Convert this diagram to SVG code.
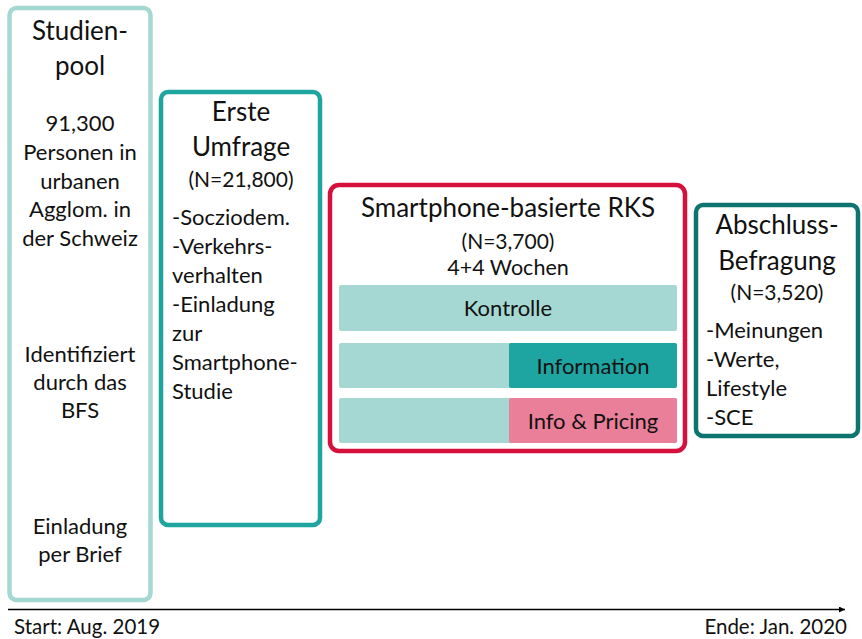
<svg xmlns="http://www.w3.org/2000/svg" width="862" height="639" viewBox="0 0 862 639">
<defs>
<style>
text{font-family:Lato,"Liberation Sans",sans-serif;fill:#111;}
.c{text-anchor:middle;}
.box{fill:#fff;stroke-width:4.5;}
.h{font-size:26px;}
.m{font-size:22px;}
.s{font-size:21px;}
.t{font-size:20.5px;}
</style>
<marker id="arr" viewBox="0 0 10 10" refX="10" refY="5" markerWidth="8" markerHeight="6" orient="auto" markerUnits="userSpaceOnUse"><path d="M0,0 L10,5 L0,10 z" fill="#000"/></marker>
</defs>
<rect width="862" height="639" fill="#fff"/>
<g id="studienpool">
<rect class="box" x="9.5" y="8" width="141" height="592" rx="7" stroke="#a5d8d3"/>
<text class="c h" x="80" y="40">Studien-</text>
<text class="c h" x="80" y="75">pool</text>
<text class="c m" x="80" y="131">91,300</text>
<text class="c m" x="80" y="160">Personen in</text>
<text class="c m" x="80" y="189">urbanen</text>
<text class="c m" x="80" y="217">Agglom. in</text>
<text class="c m" x="80" y="246">der Schweiz</text>
<text class="c m" x="80" y="362">Identifiziert</text>
<text class="c m" x="80" y="390">durch das</text>
<text class="c m" x="80" y="418">BFS</text>
<text class="c m" x="80" y="534">Einladung</text>
<text class="c m" x="80" y="562">per Brief</text>
</g>
<g id="erste-umfrage">
<rect class="box" x="161" y="92" width="159" height="433" rx="7" stroke="#1fa5a0"/>
<text class="c h" x="241" y="121">Erste</text>
<text class="c h" x="241" y="156">Umfrage</text>
<text class="c s" x="241" y="187">(N=21,800)</text>
<text class="m" x="172" y="225">-Socziodem.</text>
<text class="m" x="172" y="254">-Verkehrs-</text>
<text class="m" x="172" y="283">verhalten</text>
<text class="m" x="172" y="312">-Einladung</text>
<text class="m" x="172" y="341">zur</text>
<text class="m" x="172" y="370">Smartphone-</text>
<text class="m" x="172" y="399">Studie</text>
</g>
<g id="rks">
<rect class="box" x="330" y="185" width="355" height="266" rx="9" stroke="#d6103c"/>
<text class="c" x="508" y="217" font-size="26">Smartphone-basierte RKS</text>
<text class="c s" x="508" y="249">(N=3,700)</text>
<text class="c" x="508" y="275" font-size="21.5">4+4 Wochen</text>
<g id="kontrolle">
<rect x="339" y="285" width="338" height="46" rx="2" fill="#a6d8d3"/>
<text class="c m" x="508" y="316">Kontrolle</text>
</g>
<g id="information">
<rect x="339" y="343" width="338" height="45" rx="2" fill="#a6d8d3"/>
<rect x="509" y="343" width="168" height="45" rx="2" fill="#1fa5a1"/>
<text class="c m" x="593" y="374">Information</text>
</g>
<g id="info-pricing">
<rect x="339" y="398" width="338" height="45" rx="2" fill="#a6d8d3"/>
<rect x="509" y="398" width="168" height="45" rx="2" fill="#e97f99"/>
<text class="c m" x="593" y="429">Info &amp; Pricing</text>
</g>
</g>
<g id="abschluss">
<rect class="box" x="696" y="205" width="162" height="231" rx="7" stroke="#0e7470"/>
<text class="c h" x="777" y="234">Abschluss-</text>
<text class="c h" x="777" y="270">Befragung</text>
<text class="c s" x="777" y="300">(N=3,520)</text>
<text class="m" x="706" y="338">-Meinungen</text>
<text class="m" x="706" y="367">-Werte,</text>
<text class="m" x="706" y="396">Lifestyle</text>
<text class="m" x="706" y="425">-SCE</text>
</g>
<g id="connectors">
<line x1="8" y1="609.5" x2="845" y2="609.5" stroke="#000" stroke-width="1.3" marker-end="url(#arr)"/>
</g>
<g id="timeline-labels">
<text class="t" x="14" y="634">Start: Aug. 2019</text>
<text class="t" x="847" y="634" text-anchor="end">Ende: Jan. 2020</text>
</g>
</svg>
